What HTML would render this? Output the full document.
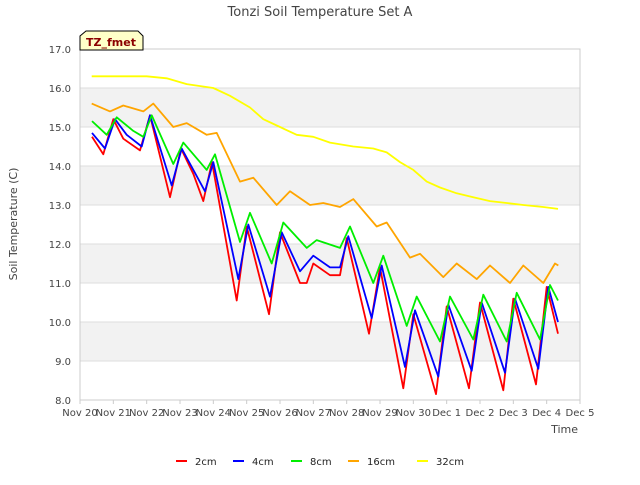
<!DOCTYPE html>
<html><head><meta charset="utf-8"><style>
body{margin:0;background:#fff;font-family:"Liberation Sans","DejaVu Sans",sans-serif;}
svg text{font-family:"DejaVu Sans","Liberation Sans",sans-serif;}
</style></head><body>
<svg id="chart" width="640" height="480" viewBox="0 0 640 480" xmlns="http://www.w3.org/2000/svg">
<rect width="640" height="480" fill="#fff"/>
<text x="320" y="16" text-anchor="middle" font-size="13" fill="#444">Tonzi Soil Temperature Set A</text>
<g id="bands"></g>
<g id="grid"></g>
<rect x="80" y="49" width="500" height="351" fill="none" stroke="#ccc"/>
<g id="yticks"></g>
<g id="xticks"></g>
<g id="series"></g>
<text transform="translate(17,224) rotate(-90)" text-anchor="middle" font-size="11" fill="#444">Soil Temperature (C)</text>
<text x="578" y="433" text-anchor="end" font-size="11" fill="#444">Time</text>
<g>
<path d="M80,50 L80,36 L86,31 L138,31 L143,36 L143,50 Z" fill="#ffffc8" stroke="#000"/>
<text x="111" y="46" text-anchor="middle" font-size="11" font-weight="bold" fill="#8b0000">TZ_fmet</text>
</g>
<g id="legend"></g>
</svg>
<script>
const seriesNames=["2cm","4cm","8cm","16cm","32cm"];
const seriesColors=["#ff0000","#0000ff","#00ee00","#ffa500","#ffff00"];
const xTickLabels=["Nov 20","Nov 21","Nov 22","Nov 23","Nov 24","Nov 25","Nov 26","Nov 27","Nov 28","Nov 29","Nov 30","Dec 1","Dec 2","Dec 3","Dec 4","Dec 5"];
const yTickValues=[8,9,10,11,12,13,14,15,16,17];
const s2cm=[[0.36,14.75],[0.7,14.3],[1.0,15.2],[1.3,14.7],[1.8,14.4],[2.1,15.3],[2.7,13.2],[3.03,14.45],[3.4,13.8],[3.7,13.1],[3.96,14.1],[4.7,10.55],[5.0,12.45],[5.67,10.2],[6.0,12.3],[6.6,11.0],[6.8,11.0],[7.0,11.5],[7.5,11.2],[7.8,11.2],[8.0,12.15],[8.67,9.7],[9.0,11.4],[9.7,8.3],[10.0,10.2],[10.68,8.15],[11.0,10.4],[11.67,8.3],[12.0,10.5],[12.7,8.25],[13.0,10.6],[13.68,8.4],[14.0,10.9],[14.34,9.7]];
const s4cm=[[0.36,14.85],[0.75,14.45],[1.05,15.2],[1.4,14.8],[1.85,14.5],[2.1,15.3],[2.75,13.5],[3.05,14.45],[3.75,13.35],[4.0,14.1],[4.75,11.1],[5.05,12.5],[5.7,10.65],[6.05,12.3],[6.6,11.3],[7.0,11.7],[7.5,11.4],[7.8,11.4],[8.05,12.2],[8.75,10.1],[9.05,11.45],[9.75,8.85],[10.05,10.3],[10.75,8.6],[11.05,10.45],[11.75,8.75],[12.05,10.5],[12.75,8.7],[13.05,10.6],[13.75,8.8],[14.05,10.9],[14.34,10.0]];
const s8cm=[[0.36,15.15],[0.8,14.8],[1.1,15.25],[1.6,14.9],[1.9,14.75],[2.15,15.3],[2.8,14.05],[3.1,14.6],[3.8,13.9],[4.05,14.3],[4.8,12.05],[5.1,12.8],[5.75,11.5],[6.1,12.55],[6.8,11.9],[7.1,12.1],[7.8,11.9],[8.1,12.45],[8.8,11.0],[9.1,11.7],[9.8,9.9],[10.1,10.65],[10.8,9.5],[11.1,10.65],[11.8,9.55],[12.1,10.7],[12.8,9.5],[13.1,10.75],[13.8,9.55],[14.1,10.95],[14.34,10.55]];
const s16cm=[[0.35,15.6],[0.9,15.4],[1.3,15.55],[1.9,15.4],[2.2,15.6],[2.8,15.0],[3.2,15.1],[3.8,14.8],[4.1,14.85],[4.8,13.6],[5.2,13.7],[5.9,13.0],[6.3,13.35],[6.9,13.0],[7.3,13.05],[7.8,12.95],[8.2,13.15],[8.9,12.45],[9.2,12.55],[9.9,11.65],[10.2,11.75],[10.9,11.15],[11.3,11.5],[11.9,11.1],[12.3,11.45],[12.9,11.0],[13.3,11.45],[13.9,11.0],[14.25,11.5],[14.35,11.45]];
const s32cm=[[0.35,16.3],[1.0,16.3],[2.0,16.3],[2.6,16.25],[3.2,16.1],[4.0,16.0],[4.5,15.8],[5.1,15.5],[5.5,15.2],[6.0,15.0],[6.5,14.8],[7.0,14.75],[7.5,14.6],[8.2,14.5],[8.8,14.45],[9.2,14.35],[9.6,14.1],[10.0,13.9],[10.4,13.6],[10.8,13.45],[11.3,13.3],[11.8,13.2],[12.3,13.1],[12.8,13.05],[13.3,13.0],[13.9,12.95],[14.34,12.9]];
const allSeries=[s2cm,s4cm,s8cm,s16cm,s32cm];
const NS="http://www.w3.org/2000/svg";
const X0=80,X1=580,Y0=400,Y1=49,DMIN=0,DMAX=15,VMIN=8,VMAX=17;
function xs(d){return X0+(d-DMIN)/(DMAX-DMIN)*(X1-X0);}
function ys(v){return Y0-(v-VMIN)/(VMAX-VMIN)*(Y0-Y1);}
function mk(t,a,p){const e=document.createElementNS(NS,t);for(const k in a)e.setAttribute(k,a[k]);p.appendChild(e);return e;}
const bands=document.getElementById('bands'),grid=document.getElementById('grid'),yt=document.getElementById('yticks'),xt=document.getElementById('xticks'),sg=document.getElementById('series'),lg=document.getElementById('legend');
for(let v=9;v<17;v+=2){const r=mk('rect',{x:X0,y:ys(v+1),width:X1-X0,height:ys(v)-ys(v+1),fill:'#f2f2f2'},bands);

}
yTickValues.forEach(v=>{const l=mk('line',{x1:X0,x2:X1,y1:ys(v),y2:ys(v),stroke:'#ddd'},grid);


const t=mk('text',{x:X0-9,y:ys(v)+4,'text-anchor':'end','font-size':'10',fill:'#444'},yt);t.textContent=v.toFixed(1);

});
xTickLabels.forEach((s,i)=>{const x=xs(i);mk('line',{x1:x,x2:x,y1:Y0,y2:Y0+4,stroke:'#ccc'},xt);
const t=mk('text',{x:x,y:Y0+16,'text-anchor':'middle','font-size':'10',fill:'#444'},xt);t.textContent=s;

});
allSeries.forEach((s,i)=>{const p=mk('polyline',{points:s.map(q=>xs(q[0]).toFixed(1)+','+ys(q[1]).toFixed(1)).join(' '),fill:'none',stroke:seriesColors[i],'stroke-width':'1.8','stroke-linejoin':'round'},sg);

});
const lx=[176,233,291,348,417];
seriesNames.forEach((n,i)=>{const g=mk('g',{},lg);


mk('line',{x1:lx[i],x2:lx[i]+11,y1:461,y2:461,stroke:seriesColors[i],'stroke-width':'2'},g);
const t=mk('text',{x:lx[i]+19,y:465,'font-size':'10',fill:'#222'},g);t.textContent=n;});
</script>
</body></html>
